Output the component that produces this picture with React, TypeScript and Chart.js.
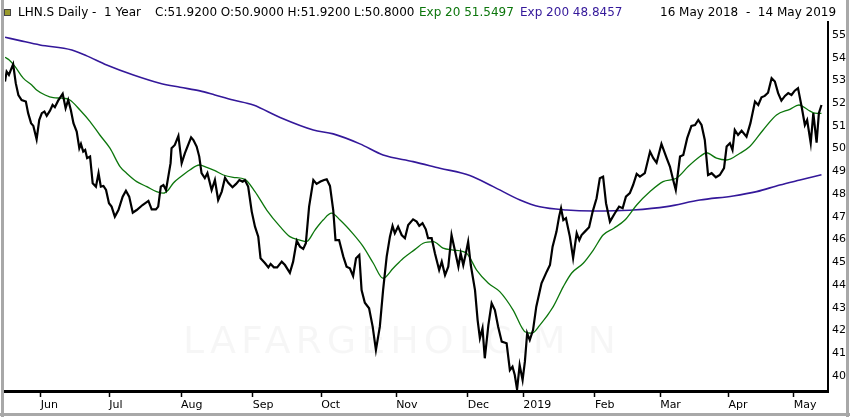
import React, { useEffect, useRef } from 'react';
import { Chart, registerables } from 'chart.js';

Chart.register(...registerables);

// trading day number, counted from 16 May 2018
const closeDay = [
  0, 0.5, 1.2, 1.8, 2.5, 3.3, 4.1, 5.1, 6.4, 7.1,
  8.0, 8.7, 9.7, 10.5, 11.3, 12.1, 12.8, 13.8, 14.6, 15.3,
  16.3, 17.7, 18.6, 19.4, 20.2, 21.0, 22.0, 22.8, 23.3, 24.0,
  24.6, 25.2, 26.1, 26.9, 27.9, 28.7, 29.4, 30.2, 31.0, 31.9,
  32.7, 33.7, 34.8, 36.1, 37.1, 38.1, 39.2, 40.4, 42.2, 44.0,
  45.0, 46.3, 47.0, 47.8, 48.6, 49.4, 50.1, 50.8, 51.1, 52.1,
  53.2, 54.2, 55.2, 57.1, 57.8, 58.8, 59.6, 60.3, 61.3, 62.1,
  63.4, 64.4, 65.4, 66.5, 67.5, 68.5, 69.8, 70.9, 71.9, 72.9,
  73.6, 74.6, 75.7, 76.7, 77.7, 78.4, 79.8, 80.8, 81.5, 82.5,
  83.5, 84.9, 85.9, 87.4, 88.4, 89.5, 90.5, 91.5, 92.3, 93.3,
  94.6, 95.6, 96.8, 97.9, 98.7, 99.7, 100.7, 101.4, 102.5, 103.8,
  104.8, 105.8, 106.8, 107.7, 108.7, 109.4, 110.4, 111.7, 112.8, 113.8,
  115.0, 116.0, 117.1, 118.1, 118.9, 119.6, 120.6, 121.7, 122.7, 123.7,
  125.2, 126.3, 127.1, 128.1, 129.1, 129.8, 130.9, 131.9, 133.2, 134.0,
  135.0, 136.0, 137.0, 138.0, 139.1, 139.8, 140.6, 141.4, 142.1, 142.9,
  144.2, 145.0, 145.7, 146.5, 147.2, 148.3, 149.3, 150.3, 151.3, 152.4,
  153.9, 154.9, 155.7, 156.4, 157.1, 157.9, 158.8, 159.5, 160.2, 161.0,
  162.0, 163.0, 164.6, 166.2, 167.2, 168.0, 169.2, 170.0, 170.6, 171.3,
  172.1, 173.3, 174.3, 175.4, 176.2, 176.9, 177.9, 179.2, 180.3, 181.5,
  182.5, 183.5, 184.4, 185.6, 187.1, 188.4, 189.5, 190.5, 191.7, 192.7,
  193.8, 194.8, 196.3, 197.9, 198.9, 199.9, 201.4, 203.0, 204.0, 205.0,
  205.8, 207.1, 208.1, 209.3, 210.6, 211.7, 212.7, 213.7, 214.7, 215.7,
  216.8, 218.1, 219.3, 220.6, 221.4, 222.4, 223.2, 223.9, 224.9, 226.0,
  227.5, 228.7, 230.1, 231.1, 232.1, 233.1, 234.1, 235.2, 236.2, 237.2,
  238.2, 239.3, 240.3, 241.3, 242.3, 243.3, 244.4, 245.4, 246.1, 247.2,
  248.0, 249.0, 249.7, 250.5,
];
const closeValue = [
  52.95, 53.39, 53.24, 53.46, 53.71, 52.88, 52.36, 52.14, 52.07, 51.56,
  51.12, 51.0, 50.41, 51.26, 51.56, 51.63, 51.44, 51.67, 51.92, 51.82,
  52.11, 52.41, 51.78, 52.14, 51.70, 51.12, 50.75, 50.02, 50.21, 49.87,
  49.94, 49.58, 49.65, 48.48, 48.33, 48.92, 48.33, 48.36, 48.18, 47.60,
  47.45, 47.01, 47.30, 47.89, 48.15, 47.89, 47.18, 47.30, 47.52, 47.70,
  47.33, 47.33, 47.45, 48.33, 48.40, 48.18, 48.77, 49.36, 50.02, 50.16,
  50.56, 49.36, 49.80, 50.50, 50.38, 50.09, 49.65, 48.92, 48.70, 48.92,
  48.18, 48.62, 47.74, 48.11, 48.72, 48.50, 48.30, 48.45, 48.62, 48.55,
  48.62, 48.33, 47.23, 46.57, 46.13, 45.18, 44.96, 44.78, 44.93, 44.78,
  44.78, 45.03, 44.88, 44.54, 45.03, 45.95, 45.69, 45.59, 45.84, 47.45,
  48.62, 48.45, 48.55, 48.62, 48.65, 48.36, 47.30, 45.98, 45.98, 45.25,
  44.81, 44.74, 44.40, 45.18, 45.32, 43.78, 43.22, 42.98, 42.17, 41.14,
  42.17, 43.78, 45.25, 46.13, 46.60, 46.28, 46.57, 46.20, 46.06, 46.64,
  46.89, 46.79, 46.60, 46.72, 46.45, 46.06, 46.06, 45.40, 44.66, 45.03,
  44.44, 44.81, 46.20, 45.54, 44.81, 45.40, 44.88, 45.40, 45.91, 44.88,
  43.78, 42.46, 41.66, 42.10, 40.78, 42.24, 43.20, 42.90, 42.17, 41.51,
  41.44, 40.26, 40.41, 40.04, 39.41, 40.48, 39.82, 40.63, 41.88, 41.58,
  42.02, 43.05, 44.08, 44.59, 44.88, 45.69, 46.35, 47.01, 47.38, 46.86,
  46.94, 46.13, 45.18, 46.28, 45.98, 46.20, 46.35, 46.54, 47.23, 47.82,
  48.70, 48.77, 47.60, 46.79, 47.16, 47.45, 47.38, 47.89, 48.04, 48.40,
  48.89, 48.77, 48.92, 49.87, 49.58, 49.38, 50.21, 49.58, 49.21, 48.62,
  48.18, 49.65, 49.72, 50.46, 51.0, 51.04, 51.26, 51.04, 50.38, 48.84,
  48.92, 48.74, 48.84, 49.14, 50.09, 50.24, 49.94, 50.82, 50.60, 50.79,
  50.53, 51.12, 52.07, 51.92, 52.26, 52.32, 52.46, 53.10, 52.95, 52.44,
  52.11, 52.32, 52.44, 52.36, 52.55, 52.66, 51.85, 51.04, 51.26, 50.24,
  51.56, 50.26, 51.56, 51.92,
];

const ema20Day = [
  0, 1.3, 3.1, 5.6, 8.2, 9.7, 12.3, 14.8, 17.4, 19.9,
  23.0, 26.1, 29.1, 32.2, 35.3, 37.3, 40.4, 43.5, 46.5, 48.6,
  50.1, 51.6, 53.7, 56.7, 59.6, 61.9, 64.4, 67.0, 70.0, 73.6,
  76.7, 80.3, 84.4, 87.4, 90.5, 92.5, 95.1, 97.6, 100.2, 102.8,
  106.8, 109.9, 113.0, 116.0, 119.1, 122.2, 125.8, 128.3, 131.4, 134.4,
  137.5, 141.6, 144.7, 148.3, 151.8, 155.9, 159.5, 161.6, 164.1, 168.2,
  171.3, 173.8, 177.4, 180.5, 183.5, 186.8, 190.2, 193.8, 197.9, 201.9,
  206.0, 209.6, 213.2, 215.2, 218.3, 221.4, 225.5, 228.5, 232.6, 236.7,
  240.8, 243.6, 246.4, 248.5, 250.5,
];
const ema20Value = [
  54.02, 53.90, 53.61, 53.10, 52.80, 52.58, 52.36, 52.24, 52.22, 52.14,
  51.70, 51.19, 50.60, 50.02, 49.21, 48.92, 48.55, 48.33, 48.11, 48.04,
  48.18, 48.48, 48.74, 49.06, 49.28, 49.18, 49.03, 48.84, 48.74, 48.65,
  48.11, 47.30, 46.57, 46.13, 45.98, 45.91, 46.42, 46.86, 47.16, 46.86,
  46.25, 45.69, 44.96, 44.30, 44.74, 45.18, 45.57, 45.84, 45.91, 45.62,
  45.54, 45.40, 44.66, 44.08, 43.71, 42.90, 41.95, 41.88, 42.24, 43.05,
  43.93, 44.52, 44.96, 45.54, 46.20, 46.50, 46.86, 47.52, 48.11, 48.55,
  48.70, 49.21, 49.65, 49.82, 49.58, 49.50, 49.80, 50.09, 50.82, 51.48,
  51.73, 51.92, 51.70, 51.56, 51.55,
];

const ema200Day = [
  0, 4.6, 10.7, 20.5, 25.1, 31.2, 39.4, 47.5, 53.7, 59.8,
  64.4, 70.0, 76.2, 84.4, 94.6, 100.7, 108.9, 116.0, 125.2, 133.4,
  142.6, 149.8, 158.0, 164.1, 172.3, 180.5, 187.1, 192.7, 203.0, 213.2,
  223.4, 230.6, 237.7, 243.9, 250.5,
];
const ema200Value = [
  54.90, 54.75, 54.56, 54.34, 54.08, 53.68, 53.24, 52.88, 52.70, 52.54,
  52.36, 52.14, 51.92, 51.37, 50.82, 50.65, 50.21, 49.72, 49.43, 49.14,
  48.82, 48.33, 47.74, 47.44, 47.30, 47.26, 47.27, 47.30, 47.45, 47.74,
  47.92, 48.11, 48.40, 48.62, 48.85,
];

// first trading day of each month
const monthTicks = [11, 32, 54, 76, 97, 120, 142, 159, 181, 201, 222, 242];
const monthLabels = ['Jun', 'Jul', 'Aug', 'Sep', 'Oct', 'Nov', 'Dec', '2019', 'Feb', 'Mar', 'Apr', 'May'];
const priceTicks = [40, 41, 42, 43, 44, 45, 46, 47, 48, 49, 50, 51, 52, 53, 54, 55];

const FONT = 'DejaVu Sans';

const pairs = (xs: number[], ys: number[]) => xs.map((x, i) => ({ x, y: ys[i] }));

const App = () => {
  const chartRef = useRef<HTMLCanvasElement>(null);
  const chartInstance = useRef<Chart | null>(null);

  useEffect(() => {
    document.body.style.margin = '0';
    const ctx = chartRef.current?.getContext('2d');
    if (!ctx) return;
    if (chartInstance.current) chartInstance.current.destroy();

    // faint watermark behind the lines
    const watermark = {
      id: 'watermark',
      beforeDatasetsDraw(chart: Chart) {
        const c = chart.ctx;
        c.save();
        c.font = `38px "${FONT}"`;
        c.fillStyle = 'rgba(0,0,0,0.035)';
        c.textAlign = 'center';
        c.textBaseline = 'middle';
        (c as any).letterSpacing = '5px';
        c.fillText('LAFARGEHOLCIM N', 402, 343);
        c.restore();
      },
    };

    chartInstance.current = new Chart(ctx, {
      type: 'line',
      data: {
        datasets: [
          {
            label: 'LHN.S',
            data: pairs(closeDay, closeValue),
            borderColor: '#000000',
            borderWidth: 2.2,
            pointRadius: 0,
            tension: 0,
          },
          {
            label: 'Exp 20',
            data: pairs(ema20Day, ema20Value),
            borderColor: '#0c760c',
            borderWidth: 1.3,
            pointRadius: 0,
            cubicInterpolationMode: 'monotone',
          },
          {
            label: 'Exp 200',
            data: pairs(ema200Day, ema200Value),
            borderColor: '#34189a',
            borderWidth: 1.6,
            pointRadius: 0,
            cubicInterpolationMode: 'monotone',
          },
        ],
      },
      options: {
        animation: false,
        responsive: false,
        layout: { padding: { left: 5, top: 22, right: 0, bottom: 0 } },
        plugins: { legend: { display: false }, tooltip: { enabled: false } },
        scales: {
          x: {
            type: 'linear',
            min: 0,
            max: 252.5,
            afterBuildTicks: (s: any) => {
              s.ticks = monthTicks.map((v) => ({ value: v }));
            },
            afterFit: (s: any) => {
              s.height = 26;
            },
            grid: { drawOnChartArea: false, drawTicks: true, tickLength: 6, tickColor: '#000', tickWidth: 1.5 },
            border: { color: '#000', width: 3 },
            ticks: {
              align: 'start',
              padding: 2,
              color: '#000',
              maxRotation: 0,
              autoSkip: false,
              font: { family: FONT, size: 11 },
              callback: (_v: any, i: number) => monthLabels[i],
            },
          },
          y: {
            position: 'right',
            min: 39.34,
            max: 55.57,
            afterBuildTicks: (s: any) => {
              s.ticks = priceTicks.map((v) => ({ value: v }));
            },
            afterFit: (s: any) => {
              s.width = 22;
            },
            grid: { drawOnChartArea: false, drawTicks: false },
            border: { color: '#000', width: 2 },
            ticks: {
              padding: 4,
              color: '#000',
              font: { family: FONT, size: 11 },
              callback: (v: any) => String(v),
            },
          },
        },
      },
      plugins: [watermark],
    });

    return () => {
      if (chartInstance.current) {
        chartInstance.current.destroy();
        chartInstance.current = null;
      }
    };
  }, []);

  const text: React.CSSProperties = {
    position: 'absolute',
    top: 5,
    lineHeight: '15px',
    fontFamily: FONT,
    fontSize: 12,
    whiteSpace: 'pre',
    color: '#000',
  };

  return (
    <div style={{ position: 'relative', width: 850, height: 417, background: '#fff', overflow: 'hidden' }}>
      <canvas ref={chartRef} width={850} height={417} style={{ position: 'absolute', left: 0, top: 0 }}></canvas>
      {/* header */}
      <div style={{ position: 'absolute', left: 4, top: 9, width: 5, height: 5, background: '#9a9a2a', border: '1px solid #444' }} />
      <span style={{ ...text, left: 18 }}>LHN.S Daily -  1 Year</span>
      <span style={{ ...text, left: 155 }}>C:51.9200 O:50.9000 H:51.9200 L:50.8000</span>
      <span style={{ ...text, left: 419, color: '#0c760c' }}>Exp 20 51.5497</span>
      <span style={{ ...text, left: 520, color: '#34189a' }}>Exp 200 48.8457</span>
      <span style={{ ...text, left: 660 }}>16 May 2018  -  14 May 2019</span>
      {/* grey frame */}
      <div style={{ position: 'absolute', left: 1, top: 0, width: 3, height: 417, background: '#a8a8a8' }} />
      <div style={{ position: 'absolute', right: 1, top: 0, width: 3, height: 417, background: '#a8a8a8' }} />
      <div style={{ position: 'absolute', left: 0, bottom: 1, width: 850, height: 3, background: '#a8a8a8' }} />
    </div>
  );
};

export default App;
